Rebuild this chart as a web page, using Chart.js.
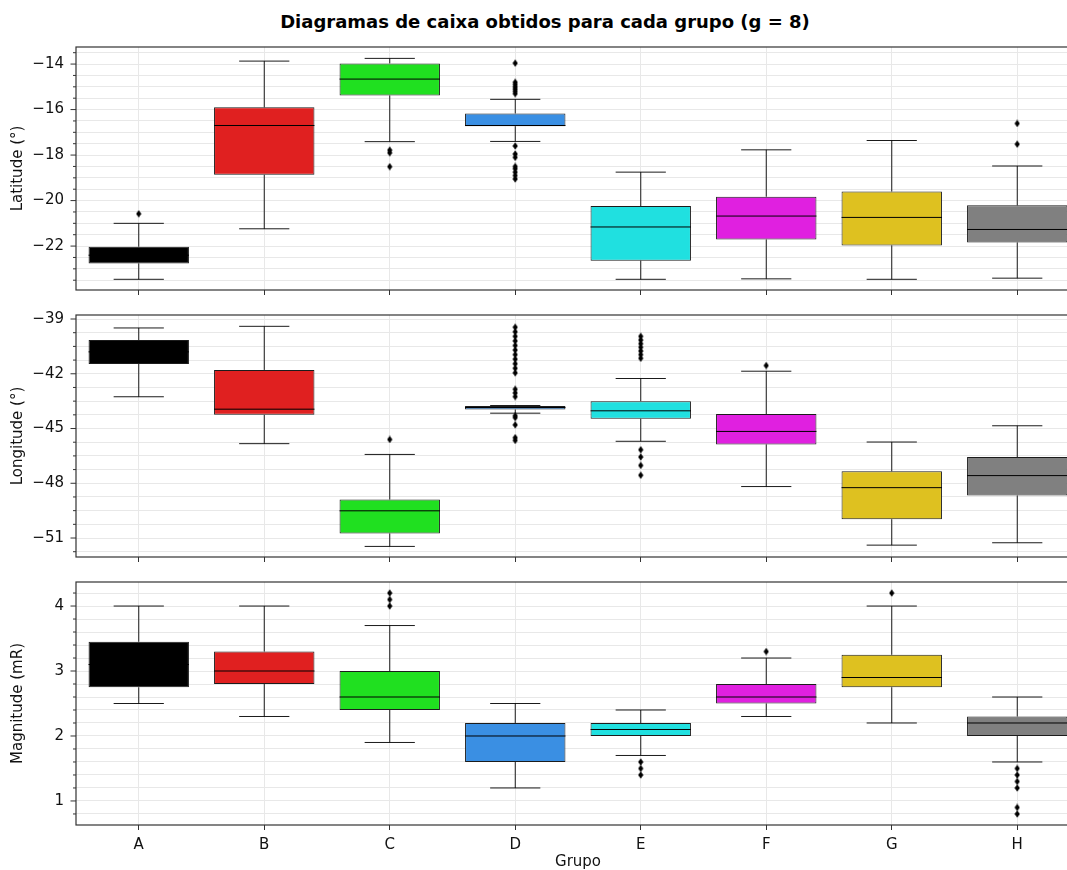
<!DOCTYPE html>
<html>
<head>
<meta charset="utf-8">
<script src="https://cdn.jsdelivr.net/npm/chart.js@4.4.1/dist/chart.umd.min.js"></script>
<style>
  body { margin: 0; width: 1067px; height: 870px; overflow: hidden; background: #fff; position: relative; }
  #title { position: absolute; left: 0; top: 11px; width: 1090px; text-align: center;
           font: bold 18px 'DejaVu Sans', sans-serif; color: #000; }
  canvas { position: absolute; left: 0; }
</style>
</head>
<body>
<div id="title">Diagramas de caixa obtidos para cada grupo (g = 8)</div>
<canvas id="latChart" width="1100" height="260" style="top:40px"></canvas>
<canvas id="lonChart" width="1100" height="259" style="top:308px"></canvas>
<canvas id="magChart" width="1100" height="296" style="top:575px"></canvas>

<script>
// Groups and colours
const groups = ['A', 'B', 'C', 'D', 'E', 'F', 'G', 'H'];
const boxColors = ['#000000', '#e02020', '#20e020', '#3a8fe3', '#20e0e0', '#e020e0', '#dec120', '#808080'];

// Latitude (°)
const latLow = [-23.46, -21.24, -17.41, -17.40, -23.46, -23.44, -23.46, -23.41];
const latQ1 = [-22.76, -18.87, -15.38, -16.73, -22.64, -21.71, -21.97, -21.84];
const latMed = [-22.40, -16.70, -14.66, -16.70, -21.16, -20.68, -20.74, -21.27];
const latQ3 = [-22.03, -15.90, -13.97, -16.17, -20.24, -19.83, -19.60, -20.21];
const latHigh = [-21.00, -13.87, -13.75, -15.55, -18.75, -17.77, -17.36, -18.48];
const latOut = [
  [-20.58],
  [],
  [-17.78, -17.90, -18.51],
  [-13.96, -14.80, -14.90, -15.00, -15.10, -15.20, -15.30, -17.60, -17.95, -18.10, -18.50, -18.60, -18.75, -18.90, -19.05],
  [],
  [],
  [],
  [-16.61, -17.52]
];

// Longitude (°)
const lonLow = [-43.26, -45.83, -51.46, -44.16, -45.70, -48.18, -51.39, -51.26];
const lonQ1 = [-41.46, -44.25, -50.75, -43.96, -44.47, -45.87, -49.97, -48.67];
const lonMed = [-40.80, -43.94, -49.51, -43.85, -44.03, -45.16, -48.24, -47.58];
const lonQ3 = [-40.15, -41.79, -48.89, -43.76, -43.50, -44.21, -47.34, -46.56];
const lonHigh = [-39.49, -39.40, -46.42, -43.74, -42.26, -41.86, -45.74, -44.85];
const lonOut = [
  [],
  [],
  [-45.60],
  [-39.45, -39.70, -39.95, -40.20, -40.45, -40.70, -40.95, -41.20, -41.45, -41.70, -41.95, -42.85, -43.05, -43.25, -44.30, -44.40, -44.80, -45.50, -45.65],
  [-39.95, -40.15, -40.35, -40.55, -40.75, -40.95, -41.15, -46.16, -46.56, -47.02, -47.56],
  [-41.55],
  [],
  []
];

// Magnitude (mR)
const magLow = [2.50, 2.30, 1.90, 1.20, 1.70, 2.30, 2.20, 1.60];
const magQ1 = [2.75, 2.80, 2.40, 1.60, 2.00, 2.50, 2.75, 2.00];
const magMed = [3.10, 3.00, 2.60, 2.00, 2.10, 2.60, 2.90, 2.20];
const magQ3 = [3.45, 3.30, 3.00, 2.20, 2.20, 2.80, 3.25, 2.30];
const magHigh = [4.00, 4.00, 3.70, 2.50, 2.40, 3.20, 4.00, 2.60];
const magOut = [
  [],
  [],
  [4.0, 4.1, 4.2],
  [],
  [1.6, 1.5, 1.4],
  [3.3],
  [4.2],
  [1.5, 1.4, 1.3, 1.2, 0.9, 0.8]
];

Chart.defaults.font.family = "'DejaVu Sans', sans-serif";
Chart.defaults.font.size = 15;
Chart.defaults.color = '#111';

const lineColor = '#000';
const gridColor = '#e8e8e8';

// thin diamond marker for outliers
const diamond = document.createElement('canvas');
diamond.width = 6;
diamond.height = 8;
(function () {
  const c = diamond.getContext('2d');
  c.fillStyle = '#000';
  c.beginPath();
  c.moveTo(3, 0.3);
  c.lineTo(5.6, 4);
  c.lineTo(3, 7.7);
  c.lineTo(0.4, 4);
  c.closePath();
  c.fill();
})();

// whiskers, caps, medians, frame and y ticks
const boxPlugin = {
  id: 'boxStats',
  beforeDatasetsDraw(chart, args, opts) {
    const { ctx, scales: { y } } = chart;
    const bars = chart.getDatasetMeta(0).data;
    ctx.save();
    ctx.strokeStyle = lineColor;
    ctx.lineWidth = 0.9;
    bars.forEach((bar, i) => {
      const cx = bar.x;
      const cap = bar.width / 4;
      const yLo = y.getPixelForValue(opts.low[i]);
      const yHi = y.getPixelForValue(opts.high[i]);
      const yQ1 = y.getPixelForValue(opts.q1[i]);
      const yQ3 = y.getPixelForValue(opts.q3[i]);
      ctx.beginPath();
      ctx.moveTo(cx, yLo); ctx.lineTo(cx, yQ1);
      ctx.moveTo(cx, yQ3); ctx.lineTo(cx, yHi);
      ctx.moveTo(cx - cap, yLo); ctx.lineTo(cx + cap, yLo);
      ctx.moveTo(cx - cap, yHi); ctx.lineTo(cx + cap, yHi);
      ctx.stroke();
    });
    ctx.restore();
  },
  afterDatasetsDraw(chart, args, opts) {
    const { ctx, scales: { y } } = chart;
    const bars = chart.getDatasetMeta(0).data;
    ctx.save();
    ctx.strokeStyle = lineColor;
    ctx.lineWidth = 1;
    bars.forEach((bar, i) => {
      const ym = y.getPixelForValue(opts.med[i]);
      ctx.beginPath();
      ctx.moveTo(bar.x - bar.width / 2, ym);
      ctx.lineTo(bar.x + bar.width / 2, ym);
      ctx.stroke();
    });
    ctx.restore();
  },
  afterDraw(chart, args, opts) {
    const { ctx, chartArea: a, scales: { y } } = chart;
    ctx.save();
    ctx.strokeStyle = '#333';
    ctx.lineWidth = 1.2;
    ctx.strokeRect(a.left, a.top, a.right - a.left, a.bottom - a.top);
    ctx.lineWidth = 1;
    y.ticks.forEach(t => {
      const py = y.getPixelForValue(t.value);
      const len = isMajor(t.value, opts.major) ? 5.5 : 3;
      ctx.beginPath();
      ctx.moveTo(a.left - len, py);
      ctx.lineTo(a.left, py);
      ctx.stroke();
    });
    ctx.restore();
  }
};

function isMajor(v, step) {
  return Math.abs(v / step - Math.round(v / step)) < 1e-6;
}

function makePanel(id, p) {
  const boxes = groups.map((g, i) => [p.q1[i], p.q3[i]]);
  const outliers = [];
  p.out.forEach((list, i) => list.forEach(v => outliers.push({ x: groups[i], y: v })));

  return new Chart(document.getElementById(id), {
    type: 'bar',
    data: {
      labels: groups,
      datasets: [{
        data: boxes,
        backgroundColor: boxColors,
        borderColor: '#1c1c1c',
        borderWidth: 1,
        borderSkipped: false,
        categoryPercentage: 0.8,
        barPercentage: 1.0
      }, {
        type: 'line',
        data: outliers,
        showLine: false,
        pointStyle: diamond,
        pointRadius: 3,
        pointHoverRadius: 3
      }]
    },
    plugins: [boxPlugin],
    options: {
      responsive: false,
      animation: false,
      events: [],
      layout: { padding: { top: 7, right: 20, bottom: 0, left: 0 } },
      plugins: {
        legend: { display: false },
        tooltip: { enabled: false },
        boxStats: { low: p.low, high: p.high, q1: p.q1, q3: p.q3, med: p.med, major: p.major }
      },
      scales: {
        x: {
          type: 'category',
          offset: true,
          grid: { offset: false, color: gridColor, tickColor: '#333', tickLength: 5 },
          border: { display: false },
          ticks: {
            autoSkip: false,
            maxRotation: 0,
            padding: 6,
            callback: p.showLabels ? function (v) { return groups[v]; } : () => ''
          },
          title: {
            display: p.showLabels,
            text: 'Grupo',
            padding: { top: 0, bottom: 0 }
          },
          afterFit(scale) {
            scale.height = p.xHeight;
            scale.paddingLeft = 0;
            scale.paddingRight = 0;
          }
        },
        y: {
          type: 'linear',
          min: p.min,
          max: p.max,
          grid: { color: gridColor, drawTicks: false },
          border: { display: false },
          ticks: {
            autoSkip: false,
            padding: 12,
            callback: v => isMajor(v, p.major) ? String(Math.round(v)).replace('-', '\u2212') : ''
          },
          title: { display: true, text: p.label, padding: { top: 9, bottom: 0 } },
          afterBuildTicks(scale) {
            const ticks = [];
            const start = Math.ceil(scale.min / p.minor - 1e-9);
            for (let k = start; k * p.minor <= scale.max + 1e-9; k++) {
              ticks.push({ value: +(k * p.minor).toFixed(4) });
            }
            scale.ticks = ticks;
          },
          afterFit(scale) {
            scale.width = 76;
            scale.paddingTop = 0;
            scale.paddingBottom = 0;
          }
        }
      }
    }
  });
}

makePanel('latChart', {
  label: 'Latitude (°)', min: -23.93, max: -13.25, major: 2, minor: 0.5,
  low: latLow, q1: latQ1, med: latMed, q3: latQ3, high: latHigh, out: latOut,
  showLabels: false, xHeight: 10
});

makePanel('lonChart', {
  label: 'Longitude (°)', min: -52.04, max: -38.78, major: 3, minor: 0.75,
  low: lonLow, q1: lonQ1, med: lonMed, q3: lonQ3, high: lonHigh, out: lonOut,
  showLabels: false, xHeight: 10
});

makePanel('magChart', {
  label: 'Magnitude (mR)', min: 0.63, max: 4.37, major: 1, minor: 0.2,
  low: magLow, q1: magQ1, med: magMed, q3: magQ3, high: magHigh, out: magOut,
  showLabels: true, xHeight: 46
});
</script>
</body>
</html>
